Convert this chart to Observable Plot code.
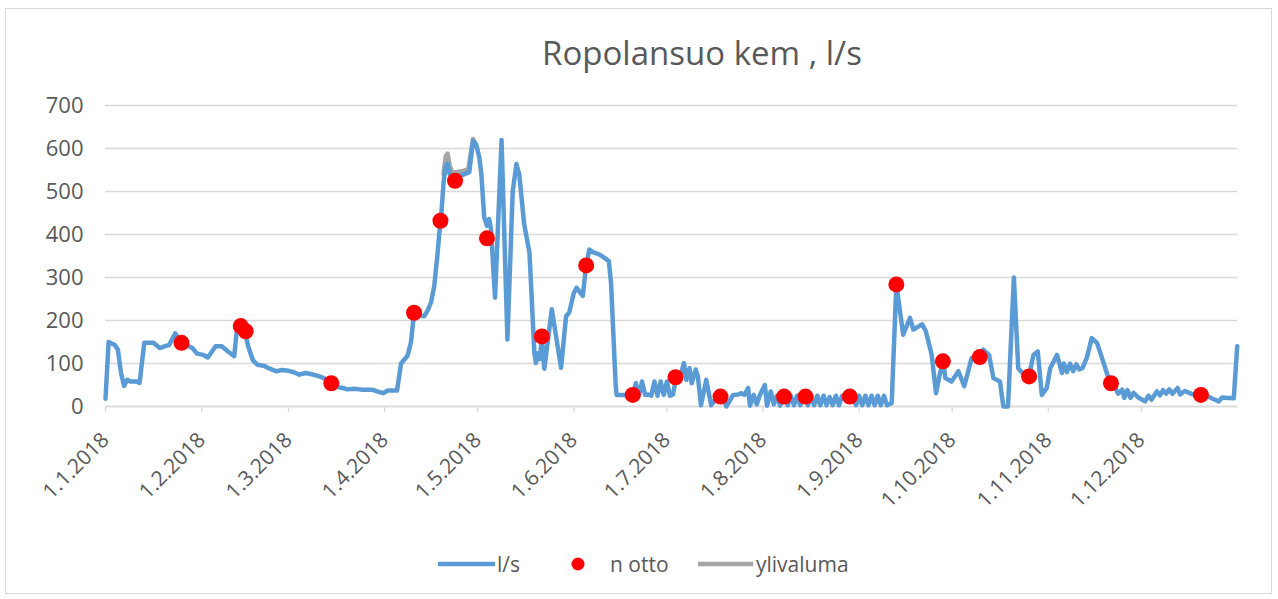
<!DOCTYPE html>
<html>
<head>
<meta charset="utf-8">
<script src="https://cdn.jsdelivr.net/npm/d3@7"></script>
<script src="https://cdn.jsdelivr.net/npm/@observablehq/plot@0.6"></script>
<style>
  html, body { margin: 0; padding: 0; background: #fff; }
  body { width: 1278px; height: 599px; position: relative; overflow: hidden; font-family: "Open Sans", sans-serif; }
  #frame { position: absolute; left: 5px; top: 8px; width: 1267px; height: 586px; border: 1px solid #d9d9d9; box-sizing: border-box; }
  #title { position: absolute; left: 702px; top: 33px; transform: translateX(-50%); font-size: 33px; line-height: 40px; color: #595959; white-space: nowrap; }
  #chart { position: absolute; left: 0; top: 0; }
  .lg { position: absolute; top: 549px; font-size: 21px; line-height: 30px; color: #595959; white-space: nowrap; }
  #legendsvg { position: absolute; left: 0; top: 540px; }
</style>
</head>
<body>
<div id="frame"></div>
<div id="title">Ropolansuo kem , l/s</div>
<div id="chart"></div>
<svg id="legendsvg" width="1278" height="50"></svg>
<script>
// ---- data (day offsets from 1.1.2018, values in l/s) ----
const seriesNames = ["l/s", "n otto", "ylivaluma"];
const seriesColors = ["#5b9bd5", "#ff0000", "#a5a5a5"];

const flowDay = [0,1,3,4,5,6,7,8,10,11,12.5,15.5,17.5,19,20.5,22.5,24,26,28,29.5,31.5,33,35.5,37.5,39.5,41.5,42.5,43.5,45,46,47.5,49,51,53,55,57,59,61,62.5,64.5,66.5,69,71,73,75,76.5,78,80.5,83,86,88,89.5,91,94,95.3,97.4,98.5,99.5,101.5,102.8,104,105,106,107,107.6,108.2,109,109.6,110.3,111,111.5,113,115,117.3,118.5,119.5,120.5,121.2,122.1,123,123.7,124.3,125.6,127.7,129.6,131.3,132.5,133.4,135,136.7,138.3,138.8,139.4,140,140.7,141.5,143.9,146.9,148.5,149.5,151,151.9,153.9,155,156,157.5,159.2,161,162.3,163,164.5,164.8,170,171,172,173,174,175,176,177,178,179,180,181,182,183,184,185,186.5,187.3,188.3,189,190.3,191,192,193.7,195.3,197,199,200.2,202.4,204,205,206,207.2,207.8,209,210,211,212.6,213.3,214.5,215.5,216.5,217.5,219,220,221,222,223,224,225.5,226.5,227.5,228.5,229.5,230.5,231.5,232.5,233.5,234.5,235.5,236.5,237.5,239,241,242,243,244,245,246,247,248,249,250,251,252,253.5,255,257.2,259.4,260.5,263.3,264.5,266.4,267.8,269,270.1,270.8,272.8,275,276.9,279.3,281.5,283,284.9,286.3,288.4,289.5,291,292.9,294.3,296,297.8,299.2,300.6,301.9,303.5,304.6,306.8,308.4,309,310,311,312,313,314,315,316.4,318,319.7,321.3,323,324.2,325.5,326.5,327.8,328.5,329.5,330.5,331.5,333,335.2,336.3,337.3,339,340,341,342,343,344,345.7,346.5,348,350,352,355,357,359,360,362,363.8,364.9];
const flowValue = [18,150,143,132,78,48,62,58,58,55,148,148,136,140,143,170,152,143,136,123,120,114,140,140,128,117,188,186,172,140,108,97,95,88,82,85,83,79,74,78,75,70,64,53,45,43,40,41,39,39,34,31,37,37,100,118,150,218,212,210,225,243,280,350,400,440,520,555,565,540,535,535,538,545,618,610,580,540,440,420,436,412,253,620,156,500,564,540,424,358,124,101,124,110,160,88,226,90,210,218,264,276,257,330,365,358,354,345,338,288,50,27,27,54,25,58,27,28,25,58,25,58,27,58,25,28,68,60,101,62,89,54,86,70,3,62,3,20,25,0,27,28,31,27,43,2,27,5,27,50,2,35,5,25,2,25,3,25,3,25,3,25,3,25,3,25,3,25,3,22,3,25,3,25,22,22,3,25,3,25,3,25,3,25,3,25,3,8,284,167,206,179,191,175,120,31,75,105,66,58,82,47,113,118,132,120,66,58,0,0,300,89,75,72,120,128,27,43,89,120,78,100,80,100,82,98,86,89,113,159,148,113,75,54,45,30,39,20,38,20,32,21,12,25,16,35,26,38,30,40,30,43,28,36,30,25,25,18,12,21,20,19,140];

const sampleDay = [24.5,43.6,45.2,72.8,99.5,108,112.7,123,140.7,155,170,183.8,198.3,218.8,225.7,240,255,270,281.9,297.8,324.2,353.2];
const sampleValue = [148,187,175,54,218,432,525,391,163,328,27,68,23,23,23,23,284,105,115,70,54,27];

const overflowDay = [109,109.7,110.3,111,111.8,113,115,117,117.8,118.5,119];
const overflowValue = [540,582,588,560,545,545,547,552,590,622,615];

const yTicks = [0,100,200,300,400,500,600,700];
const monthTicks = ["2018-01-01","2018-02-01","2018-03-01","2018-04-01","2018-05-01","2018-06-01","2018-07-01","2018-08-01","2018-09-01","2018-10-01","2018-11-01","2018-12-01"];

// ---- build ----
const t0 = Date.UTC(2018, 0, 1);
const toDate = d => new Date(t0 + d * 864e5);
const flow = flowDay.map((d, i) => ({date: toDate(d), value: flowValue[i]}));
const samples = sampleDay.map((d, i) => ({date: toDate(d), value: sampleValue[i]}));
const overflow = overflowDay.map((d, i) => ({date: toDate(d), value: overflowValue[i]}));
const monthDates = monthTicks.map(s => new Date(s + "T00:00:00Z"));
const fmt = d => `${d.getUTCDate()}.${d.getUTCMonth() + 1}.${d.getUTCFullYear()}`;

const chart = Plot.plot({
  width: 1278,
  height: 520,
  marginTop: 105,
  marginBottom: 114,
  marginLeft: 105,
  marginRight: 41,
  style: {fontFamily: "Open Sans", fontSize: "21px", color: "#595959", background: "transparent", overflow: "visible"},
  x: {type: "utc", domain: [new Date(t0), new Date(Date.UTC(2019, 0, 1))]},
  y: {domain: [0, 700]},
  marks: [
    Plot.gridY(yTicks, {stroke: "#d9d9d9", strokeOpacity: 1, strokeWidth: 1.3}),
    Plot.axisY({ticks: yTicks, tickSize: 0, tickPadding: 22, fill: "#595959", fontSize: 22, label: null}),
    Plot.axisX({ticks: monthDates, tickSize: 6, tickPadding: 24, tickRotate: -45, stroke: "#d9d9d9", strokeWidth: 1.3, fill: "#595959", tickFormat: fmt, label: null}),
    Plot.ruleY([0], {stroke: "#d9d9d9", strokeWidth: 1.3}),
    Plot.line(overflow, {x: "date", y: "value", stroke: seriesColors[2], strokeWidth: 4.5, strokeLinejoin: "round"}),
    Plot.line(flow, {x: "date", y: "value", stroke: seriesColors[0], strokeWidth: 4.5, strokeLinejoin: "round"}),
    Plot.dot(samples, {x: "date", y: "value", r: 8, fill: seriesColors[1], stroke: "none"})
  ]
});
document.getElementById("chart").appendChild(chart);

// ---- legend ----
const lg = d3.select("#legendsvg");
lg.append("line").attr("x1", 438).attr("x2", 495).attr("y1", 24).attr("y2", 24).attr("stroke", seriesColors[0]).attr("stroke-width", 4.5);
lg.append("circle").attr("cx", 578).attr("cy", 24).attr("r", 6.5).attr("fill", seriesColors[1]);
lg.append("line").attr("x1", 698).attr("x2", 753).attr("y1", 24).attr("y2", 24).attr("stroke", seriesColors[2]).attr("stroke-width", 4.5);
const lgX = [497, 610, 756];
seriesNames.forEach((n, i) => {
  const el = document.createElement("div");
  el.className = "lg";
  el.style.left = lgX[i] + "px";
  el.textContent = n;
  document.body.appendChild(el);
});
</script>
</body>
</html>
